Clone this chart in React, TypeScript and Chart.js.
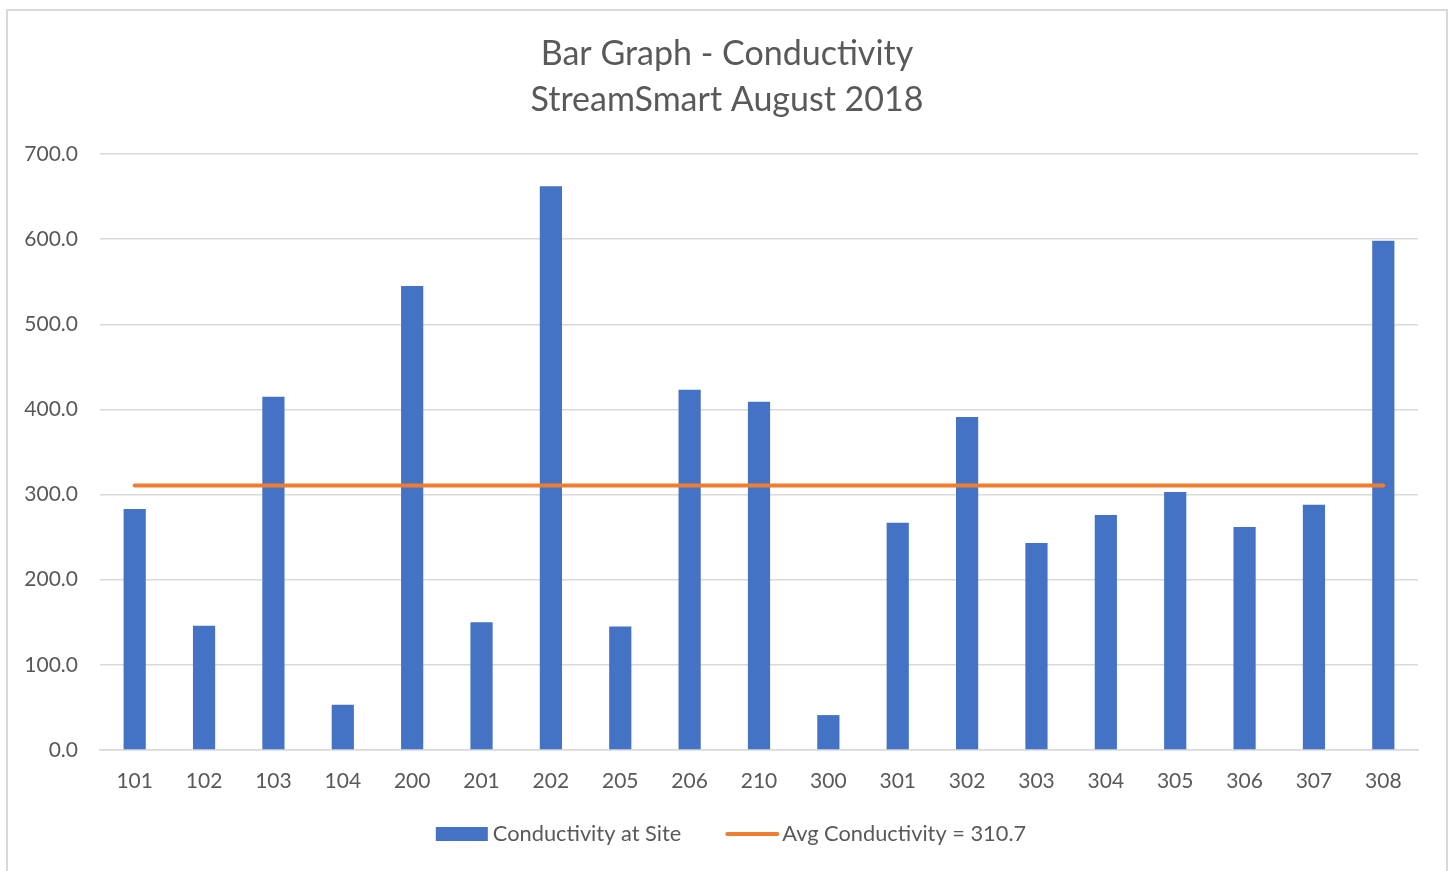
import React, { useEffect, useRef } from "react";
import { Chart, registerables } from "chart.js";

Chart.register(...registerables);

const SITES = ["101", "102", "103", "104", "200", "201", "202", "205", "206", "210", "300", "301", "302", "303", "304", "305", "306", "307", "308"];
const CONDUCTIVITY = [283, 146, 415, 53, 545, 150, 662, 145, 423, 409, 41, 267, 391, 243, 276, 303, 262, 288, 598];
const AVG_CONDUCTIVITY = 310.7;
const TITLE_LINES = ["Bar Graph - Conductivity", "StreamSmart August 2018"];
const BAR_LABEL = "Conductivity at Site";
const LINE_LABEL = "Avg Conductivity = 310.7";

const FONT = "Lato, 'Open Sans', sans-serif";
const TEXT_COLOR = "#595959";
const BLUE = "#4472C4";
const ORANGE = "#ED7D31";
const GRID = "#d9d9d9";

const framePlugin = {
  id: "frame",
  afterLayout(chart: any) {
    const t = chart.titleBlock;
    if (t) {
      t.left += 18;
      t.right += 18;
    }
  },
  beforeDraw(chart: any) {
    const ctx = chart.ctx;
    ctx.save();
    ctx.fillStyle = "#ffffff";
    ctx.fillRect(0, 0, chart.width, chart.height);
    ctx.strokeStyle = GRID;
    ctx.lineWidth = 2;
    ctx.strokeRect(7, 10, 1440, 900);
    ctx.restore();
  },
};

const legendPlugin = {
  id: "customLegend",
  afterDraw(chart: any) {
    const ctx = chart.ctx;
    ctx.save();
    ctx.font = `21.8px ${FONT}`;
    ctx.textBaseline = "middle";
    ctx.fillStyle = TEXT_COLOR;
    const w1 = ctx.measureText(BAR_LABEL).width;
    const w2 = ctx.measureText(LINE_LABEL).width;
    const total = 52 + 5 + w1 + 44 + 54 + 3 + w2;
    const cx = 731;
    const y = 834;
    let x = cx - total / 2;
    ctx.fillStyle = BLUE;
    ctx.fillRect(x, y - 7, 52, 14);
    x += 57;
    ctx.fillStyle = TEXT_COLOR;
    ctx.fillText(BAR_LABEL, x, y);
    x += w1 + 44;
    ctx.strokeStyle = ORANGE;
    ctx.lineWidth = 4;
    ctx.lineCap = "round";
    ctx.beginPath();
    ctx.moveTo(x + 2, y);
    ctx.lineTo(x + 52, y);
    ctx.stroke();
    x += 57;
    ctx.fillText(LINE_LABEL, x, y);
    ctx.restore();
  },
};

export default function App() {
  const ref = useRef<HTMLCanvasElement>(null);
  useEffect(() => {
    if (!ref.current) return;
    const chart = new Chart(ref.current, {
      type: "bar",
      data: {
        labels: SITES,
        datasets: [
          {
            type: "line",
            label: LINE_LABEL,
            data: SITES.map(() => AVG_CONDUCTIVITY),
            borderColor: ORANGE,
            backgroundColor: ORANGE,
            borderWidth: 4,
            pointRadius: 0,
            borderCapStyle: "round",
            order: 1,
          } as any,
          {
            type: "bar",
            label: BAR_LABEL,
            data: CONDUCTIVITY,
            backgroundColor: BLUE,
            barPercentage: 0.32,
            categoryPercentage: 1,
            order: 2,
          },
        ],
      },
      options: {
        responsive: false,
        animation: false,
        layout: { padding: { left: 0, right: 32, top: 0, bottom: 81 } },
        plugins: {
          legend: { display: false },
          tooltip: { enabled: false },
          title: {
            display: true,
            text: TITLE_LINES,
            color: TEXT_COLOR,
            font: { family: FONT, size: 34, weight: "normal", lineHeight: 46 / 34 },
            padding: { top: 31, bottom: 31 },
          },
        },
        scales: {
          x: {
            grid: { display: false, drawTicks: false },
            border: { display: true, color: GRID, width: 1.5 },
            ticks: { color: TEXT_COLOR, font: { family: FONT, size: 21 }, padding: 19, maxRotation: 0 },
            afterFit: (s: any) => { s.height = 40; },
          },
          y: {
            min: 0,
            max: 700,
            ticks: {
              stepSize: 100,
              color: TEXT_COLOR,
              font: { family: FONT, size: 21 },
              padding: 22,
              callback: (v: any) => Number(v).toFixed(1),
            },
            grid: { color: GRID, lineWidth: 1.5, drawTicks: false },
            border: { display: false },
            afterFit: (s: any) => { s.width = 100; },
          },
        },
      },
      plugins: [framePlugin, legendPlugin],
    });
    return () => chart.destroy();
  }, []);
  return (
    <canvas
      ref={ref}
      width={1450}
      height={871}
      style={{ position: "fixed", left: 0, top: 0, width: 1450, height: 871 }}
    />
  );
}
